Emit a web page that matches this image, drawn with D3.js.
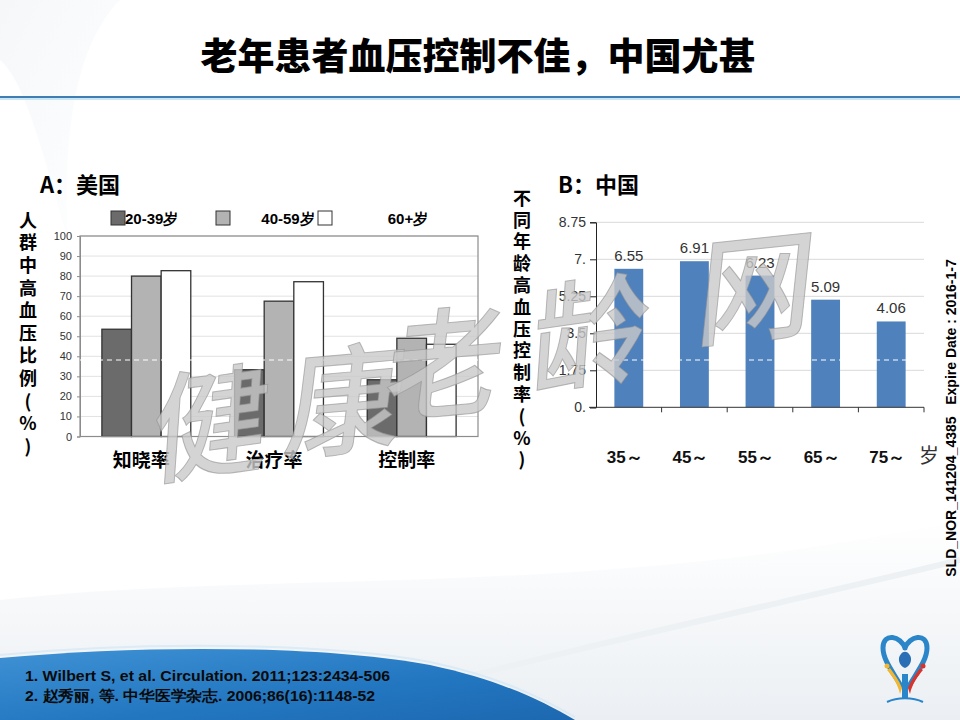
<!DOCTYPE html>
<html><head><meta charset="utf-8">
<script src="https://cdn.jsdelivr.net/npm/d3@7"></script>
<style>body{margin:0;background:#fff}svg{display:block}</style>
</head><body><svg id="c" width="960" height="720"></svg>
<script>
// ---------- data ----------
const titleText = "老年患者血压控制不佳，中国尤甚";
const panelTitleA = "A：美国";
const panelTitleB = "B：中国";
const categoriesA = ["知晓率", "治疗率", "控制率"];
const seriesNamesA = ["20-39岁", "40-59岁", "60+岁"];
const valuesA20_39 = [53.5, 33.3, 28.3];
const valuesA40_59 = [80, 67.5, 49];
const valuesA60plus = [82.7, 77.2, 46];
const ticksA = [0, 10, 20, 30, 40, 50, 60, 70, 80, 90, 100];
const yLabelA = "人群中高血压比例(%)";

const categoriesB = ["35～", "45～", "55～", "65～", "75～"];
const valuesB = [6.55, 6.91, 6.23, 5.09, 4.06];
const ticksB = [0, 1.75, 3.5, 5.25, 7, 8.75];
const tickLabelsB = ["0.", "1.75", "3.5", "5.25", "7.", "8.75"];
const yLabelB = "不同年龄高血压控制率(%)";
const unitB = "岁";

const references = ["1. Wilbert S, et al. Circulation. 2011;123:2434-506",
                    "2. 赵秀丽, 等. 中华医学杂志. 2006;86(16):1148-52"];
const sideNote = "SLD_NOR_141204_4385   Expire Date : 2016-1-7";
const watermarkChars = ["健", "康", "老", "龄", "网"];

// ---------- drawing ----------
const svg = d3.select("#c");
const CJK = "'Noto Sans CJK SC', 'Noto Sans', sans-serif";
const SANS = "Arial, 'Liberation Sans', sans-serif";
const NARROW = "'Liberation Sans Narrow', Arial, sans-serif";
const defs = svg.append("defs");

// background decoration
const bg = defs.append("linearGradient").attr("id", "bgw").attr("x1", 0).attr("y1", 0).attr("x2", 1).attr("y2", 1);
bg.append("stop").attr("offset", 0).attr("stop-color", "#eef2f5");
bg.append("stop").attr("offset", 1).attr("stop-color", "#ffffff");
svg.append("rect").attr("width", 960).attr("height", 720).attr("fill", "#fff");
svg.append("path").attr("d", "M0,0 L120,0 C80,40 62,120 68,240 C45,160 25,80 0,60 Z").attr("fill", "url(#bgw)").attr("opacity", 0.6);
const wave = defs.append("linearGradient").attr("id", "wv").attr("x1", 0).attr("y1", 0).attr("x2", 0).attr("y2", 1);
wave.append("stop").attr("offset", 0).attr("stop-color", "#ffffff");
wave.append("stop").attr("offset", 1).attr("stop-color", "#e6ebf0");
svg.append("path").attr("d", "M0,600 C250,570 600,600 960,520 L960,720 L0,720 Z").attr("fill", "url(#wv)").attr("opacity", 0.8);
svg.append("path").attr("d", "M300,720 C600,640 800,600 960,560").attr("fill", "none").attr("stroke", "#eef1f4").attr("stroke-width", 6);

// title
svg.append("text").attr("x", 478).attr("y", 70).attr("text-anchor", "middle")
  .attr("font-family", CJK).attr("font-weight", 900).attr("font-size", 37).attr("fill", "#000")
  .text(titleText);
svg.append("line").attr("x1", 0).attr("x2", 960).attr("y1", 98.5).attr("y2", 98.5).attr("stroke", "#c9e6f3").attr("stroke-width", 3);
svg.append("line").attr("x1", 0).attr("x2", 960).attr("y1", 97).attr("y2", 97).attr("stroke", "#3f7db3").attr("stroke-width", 2);

// vertical label helper (single text, upright vertical writing)
function verticalLabel(g, str, x, yTop, size, step) {
  g.append("text").attr("x", x).attr("y", yTop)
    .style("writing-mode", "vertical-rl").style("text-orientation", "upright")
    .style("letter-spacing", (step - size) + "px")
    .attr("font-family", CJK).attr("font-weight", 700).attr("font-size", size).attr("fill", "#000")
    .text(str);
}

// ---------------- Chart A ----------------
const gA = svg.append("g");
gA.append("text").attr("x", 40).attr("y", 193).attr("font-family", CJK).attr("font-weight", 700)
  .attr("font-size", 22).attr("fill", "#000").text(panelTitleA);

const x0A = d3.scaleBand().domain(categoriesA).range([80, 478]).paddingInner(0.33).paddingOuter(0.165);
const x1A = d3.scaleBand().domain(seriesNamesA).range([0, x0A.bandwidth()]);
const yA = d3.scaleLinear().domain([0, 100]).range([436.5, 236]);
const fillsA = ["#6b6b6b", "#b3b3b3", "#ffffff"];
const seriesA = [valuesA20_39, valuesA40_59, valuesA60plus];

gA.append("g").selectAll("line").data(ticksA.slice(1)).join("line")
  .attr("x1", 80).attr("x2", 478).attr("y1", d => yA(d)).attr("y2", d => yA(d))
  .attr("stroke", "#e2e2e2").attr("stroke-width", 1);
gA.append("rect").attr("x", 80).attr("y", yA(100)).attr("width", 398).attr("height", yA(0) - yA(100))
  .attr("fill", "none").attr("stroke", "#8c8c8c").attr("stroke-width", 1.2);
const axA = gA.append("g").attr("transform", "translate(80,0)")
  .call(d3.axisLeft(yA).tickValues(ticksA).tickSize(3).tickPadding(5));
axA.select(".domain").attr("stroke", "#8c8c8c");
axA.selectAll(".tick line").attr("stroke", "#8c8c8c");
axA.selectAll("text").attr("font-family", SANS).attr("font-size", 11).attr("fill", "#333");
seriesA.forEach((vals, si) => {
  gA.append("g").selectAll("rect").data(vals).join("rect")
    .attr("x", (d, i) => x0A(categoriesA[i]) + x1A(seriesNamesA[si]))
    .attr("width", x1A.bandwidth())
    .attr("y", d => yA(d)).attr("height", d => yA(0) - yA(d))
    .attr("fill", fillsA[si]).attr("stroke", "#333").attr("stroke-width", 1.3);
});
gA.append("line").attr("x1", 80).attr("x2", 478).attr("y1", yA(0)).attr("y2", yA(0)).attr("stroke", "#8c8c8c");
gA.append("g").selectAll("text").data(categoriesA).join("text")
  .attr("x", d => x0A(d) + x0A.bandwidth() / 2 - 5).attr("y", 467).attr("text-anchor", "middle")
  .attr("font-family", CJK).attr("font-weight", 700).attr("font-size", 19).attr("fill", "#000").text(d => d);
const legendA = [
  {sx: 111, tx: 125, anchor: "start"},
  {sx: 216, tx: 288, anchor: "middle"},
  {sx: 318, tx: 408, anchor: "middle"}
];
seriesNamesA.forEach((n, i) => {
  const L = legendA[i];
  gA.append("rect").attr("x", L.sx).attr("y", 211).attr("width", 14).attr("height", 14)
    .attr("fill", fillsA[i]).attr("stroke", "#333").attr("stroke-width", 1);
  gA.append("text").attr("x", L.tx).attr("y", 224).attr("text-anchor", L.anchor)
    .attr("font-family", NARROW).attr("font-weight", 700).attr("font-size", 15)
    .attr("fill", "#000").text(n);
});
verticalLabel(gA, yLabelA, 28, 211, 18, 22.6);

// ---------------- Chart B ----------------
const gB = svg.append("g");
gB.append("text").attr("x", 558).attr("y", 193).attr("font-family", CJK).attr("font-weight", 700)
  .attr("font-size", 22).attr("fill", "#000").text(panelTitleB);

const xB = d3.scaleBand().domain(categoriesB).range([596, 924]).paddingInner(0.56).paddingOuter(0.28);
const yB = d3.scaleLinear().domain([0, 8.75]).range([407.3, 222.3]);

gB.append("g").selectAll("line").data(ticksB.slice(1)).join("line")
  .attr("x1", 596).attr("x2", 924).attr("y1", d => yB(d)).attr("y2", d => yB(d))
  .attr("stroke", "#d9d9d9").attr("stroke-width", 1);
const axB = gB.append("g").attr("transform", "translate(596,0)")
  .call(d3.axisLeft(yB).tickValues(ticksB).tickFormat((d, i) => tickLabelsB[i]).tickSize(6).tickPadding(4));
axB.select(".domain").attr("stroke", "#222");
axB.selectAll(".tick line").attr("stroke", "#222");
axB.selectAll("text").attr("font-family", NARROW).attr("font-size", 14).attr("fill", "#333");

gB.append("g").selectAll("rect").data(valuesB).join("rect")
  .attr("x", (d, i) => xB(categoriesB[i])).attr("width", xB.bandwidth())
  .attr("y", d => yB(d)).attr("height", d => yB(0) - yB(d)).attr("fill", "#4f81bd");
gB.append("line").attr("x1", 589).attr("x2", 924).attr("y1", yB(0)).attr("y2", yB(0)).attr("stroke", "#333");
gB.append("g").selectAll("line").data(categoriesB).join("line")
  .attr("x1", d => xB(d) + xB.bandwidth() + xB.step() * xB.paddingInner() / 2)
  .attr("x2", d => xB(d) + xB.bandwidth() + xB.step() * xB.paddingInner() / 2)
  .attr("y1", yB(0)).attr("y2", yB(0) + 5).attr("stroke", "#333");
gB.append("g").selectAll("text").data(valuesB).join("text")
  .attr("x", (d, i) => xB(categoriesB[i]) + xB.bandwidth() / 2).attr("y", d => yB(d) - 8)
  .attr("text-anchor", "middle").attr("font-family", NARROW).attr("font-size", 15)
  .attr("fill", "#333").text(d => d.toFixed(2));
gB.append("g").selectAll("text").data(categoriesB).join("text")
  .attr("x", d => xB(d) + xB.bandwidth() / 2 - 4).attr("y", 463).attr("text-anchor", "middle")
  .attr("font-family", SANS).attr("font-weight", 700).attr("font-size", 17).attr("fill", "#111").text(d => d);
gB.append("text").attr("x", 929).attr("y", 463).attr("text-anchor", "middle")
  .attr("font-family", CJK).attr("font-size", 20).attr("fill", "#333").text(unitB);
verticalLabel(gB, yLabelB, 522, 189, 18, 21.8);

// white dashed line artifact
[[80, 478], [596, 924]].forEach(([a, b]) => {
  svg.append("line").attr("x1", a).attr("x2", b).attr("y1", 360).attr("y2", 360)
    .attr("stroke", "#fff").attr("stroke-width", 1).attr("stroke-dasharray", "5,4");
});

// watermark
const wmPos = [[208, 468, -8], [340, 445, -5], [440, 408, -5], [588, 378, -8], [752, 332, -6]];
svg.append("g").attr("pointer-events", "none").selectAll("text").data(watermarkChars).join("text")
  .attr("transform", (d, i) => `translate(${wmPos[i][0]},${wmPos[i][1]}) rotate(${wmPos[i][2]}) skewX(-12)`)
  .attr("text-anchor", "middle").attr("font-family", CJK).attr("font-weight", 500).attr("font-size", 118)
  .attr("fill", "#c9c9c9").attr("fill-opacity", 0.8).attr("stroke", "#8f8f8f").attr("stroke-width", 1)
  .attr("stroke-opacity", 0.6).text(d => d);

// side note
svg.append("text").attr("transform", "translate(956,418) rotate(-90)").attr("text-anchor", "middle")
  .attr("font-family", SANS).attr("font-weight", 700).attr("font-size", 14).attr("fill", "#000")
  .style("white-space", "pre").text(sideNote);

// bottom blue wave
const bw = defs.append("linearGradient").attr("id", "bw").attr("x1", 0).attr("y1", 0).attr("x2", 1).attr("y2", 1);
bw.append("stop").attr("offset", 0).attr("stop-color", "#3f92d4");
bw.append("stop").attr("offset", 0.6).attr("stop-color", "#2276c0");
bw.append("stop").attr("offset", 1).attr("stop-color", "#1d68b0");
svg.append("path").attr("d", "M0,658 C150,644 330,646 430,665 C500,680 540,700 575,720 L0,720 Z").attr("fill", "url(#bw)");
svg.append("path").attr("d", "M0,655 C150,641 330,643 430,662 C500,677 540,697 575,717")
  .attr("fill", "none").attr("stroke", "#d6e8f5").attr("stroke-width", 2).attr("opacity", 0.8);
svg.append("g").selectAll("text").data(references).join("text")
  .attr("x", 25).attr("y", (d, i) => 681 + i * 20)
  .attr("font-family", NARROW).attr("font-weight", 700).attr("font-size", 15)
  .attr("fill", "#0a0a0a").attr("textLength", (d, i) => i === 0 ? 365 : 350).attr("lengthAdjust", "spacingAndGlyphs")
  .text(d => d);

// logo
const lg = svg.append("g").attr("transform", "translate(905,666)");
lg.append("path").attr("d", "M0,-18 C-4,-30 -22,-34 -22,-18 C-22,-6 -12,6 -4,20 M0,-18 C4,-30 22,-34 22,-18 C22,-6 12,6 4,20")
  .attr("fill", "none").attr("stroke", "#2a86c8").attr("stroke-width", 5).attr("stroke-linecap", "round");
lg.append("path").attr("d", "M-4,-12 C-8,-8 -6,0 0,2 C6,0 8,-8 4,-12 C2,-15 -2,-15 -4,-12 Z").attr("fill", "#2a6fb6");
lg.append("path").attr("d", "M-5,28 C-7,18 -13,10 -18,4 L-15,2 C-11,8 -6,14 -3,22 Z").attr("fill", "#f2b631");
lg.append("circle").attr("cx", -18).attr("cy", 0).attr("r", 2.5).attr("fill", "#f2b631");
lg.append("path").attr("d", "M5,28 C7,18 13,10 18,4 L15,2 C11,8 6,14 3,22 Z").attr("fill", "#d9342b");
lg.append("circle").attr("cx", 18).attr("cy", 0).attr("r", 2.5).attr("fill", "#d9342b");
lg.append("path").attr("d", "M-3,8 L3,8 L3,32 L-3,32 Z").attr("fill", "#2a86c8");
lg.append("path").attr("d", "M-18,36 C-8,31 8,31 18,36").attr("fill", "none").attr("stroke", "#2a86c8").attr("stroke-width", 2);
</script></body></html>
